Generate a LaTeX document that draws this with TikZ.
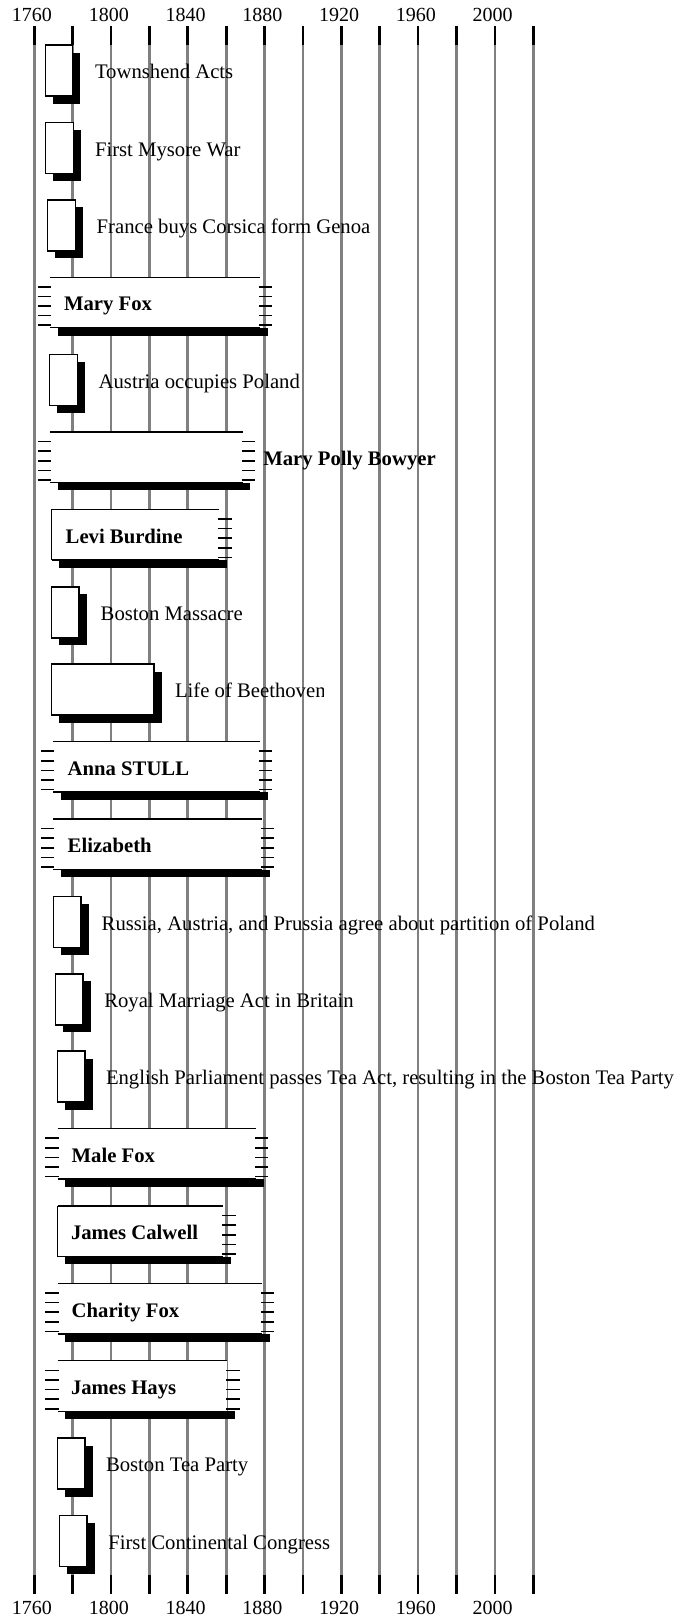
\documentclass[tikz,border=0pt]{standalone}
\usepackage{fontspec}
\setmainfont{Liberation Serif}
\definecolor{gridgray}{HTML}{808080}
\tikzset{
  gridline/.style={draw=gridgray, line width=2.7pt},
  tickline/.style={draw=black, line width=2.7pt},
  boxline/.style={draw=black, line width=1.5pt},
  edgeline/.style={draw=black, line width=1.3pt},
  fuzz/.style={draw=black, line width=1.6pt},
  shadowfill/.style={fill=black},
  evlabel/.style={anchor=base west, inner sep=0pt, outer sep=0pt, font=\fontsize{20.7}{25}\selectfont},
  durlabel/.style={anchor=base west, inner sep=0pt, outer sep=0pt, font=\fontsize{20.7}{25}\selectfont\bfseries},
  yearlabel/.style={anchor=base, inner sep=0pt, outer sep=0pt, font=\fontsize{20}{24}\selectfont},
}
% event: name, row, left, right, label, label x
\newcommand\tlevent[6]{%
  \pgfmathsetmacro\rowT{45+77.4*(#2-1)}%
  \pgfmathsetmacro\rowB{\rowT+51}%
  \fill[shadowfill] (#3+7.5,\rowT+7.5) rectangle (#4+7.5,\rowB+7.5);
  \draw[boxline, fill=white] (#3,\rowT) rectangle (#4,\rowB);
  \node[evlabel] (#1) at (#6,\rowT+33.6) {#5};
}
% duration: name, row, left, right, left solid (1/0), label, label x
\newcommand\tldur[7]{%
  \pgfmathsetmacro\rowT{45+77.4*(#2-1)}%
  \pgfmathsetmacro\rowB{\rowT+50.5}%
  \fill[white] (#3,\rowT) rectangle (#4,\rowB);
  \fill[shadowfill] (#3+7.5,\rowB) rectangle (#4+7.5,\rowB+7.8);
  \draw[edgeline] (#3,\rowT) -- (#4,\rowT);
  \draw[edgeline] (#3,\rowB) -- (#4,\rowB);
  \ifnum#5=1
    \draw[boxline] (#3,\rowT) -- (#3,\rowB);
  \else
    \foreach \k in {1,...,5} {\draw[fuzz] (#3-12.3,\rowT+9.6*\k) -- (#3+1,\rowT+9.6*\k);}
  \fi
  \foreach \k in {1,...,5} {\draw[fuzz] (#4-1,\rowT+9.6*\k) -- (#4+12.3,\rowT+9.6*\k);}
  \node[durlabel] (#1) at (#7,\rowT+33.6) {#6};
}
\begin{document}
\begin{tikzpicture}[x=1pt,y=-1pt]
\useasboundingbox (0,0) rectangle (680,1618);
% grid
\foreach \k in {0,...,13} {
  \pgfmathsetmacro\gx{34.3+38.38*\k}
  \draw[gridline] (\gx,45) -- (\gx,1575);
  \draw[tickline] (\gx,26) -- (\gx,45);
  \draw[tickline] (\gx,1575) -- (\gx,1594.3);
}
\foreach \k/\yr in {0/1760,2/1800,4/1840,6/1880,8/1920,10/1960,12/2000} {
  \pgfmathsetmacro\gx{34.3+38.38*\k-2.3}
  \node[yearlabel] (top\yr) at (\gx,21.5) {\yr};
  \node[yearlabel] (bot\yr) at (\gx,1614) {\yr};
}
% rows
\tlevent{townshend}{1}{45.7}{72.7}{Townshend Acts}{95}
\tlevent{mysore}{2}{45.7}{73.3}{First Mysore War}{95}
\tlevent{corsica}{3}{47.7}{75.3}{France buys Corsica form Genoa}{96.7}
\tldur{maryfox}{4}{50}{260}{0}{Mary Fox}{64}
\tlevent{austria}{5}{49.3}{77.7}{Austria occupies Poland}{98.7}
\tldur{bowyer}{6}{50}{242.7}{0}{Mary Polly Bowyer}{263.3}
\tldur{burdine}{7}{51.7}{219.3}{1}{Levi Burdine}{65.7}
\tlevent{massacre}{8}{51.7}{79}{Boston Massacre}{100.7}
\begin{scope}
  \clip (0,0) rectangle (323.5,1618);
  \tlevent{beethoven}{9}{51.7}{154}{Life of Beethoven}{175}
\end{scope}
\tldur{stull}{10}{53.3}{260}{0}{Anna STULL}{67.7}
\tldur{elizabeth}{11}{53.3}{262}{0}{Elizabeth}{67.7}
\tlevent{partition}{12}{53.3}{81}{Russia, Austria, and Prussia agree about partition of Poland}{101.7}
\tlevent{marriage}{13}{55.3}{83}{Royal Marriage Act in Britain}{104.3}
\tlevent{teaact}{14}{57.3}{85}{English Parliament passes Tea Act, resulting in the Boston Tea Party}{106}
\tldur{malefox}{15}{57.7}{256}{0}{Male Fox}{71.7}
\tldur{calwell}{16}{57.7}{223.3}{1}{James Calwell}{71}
\tldur{charity}{17}{57.7}{262}{0}{Charity Fox}{71.7}
\tldur{hays}{18}{57.7}{227.3}{0}{James Hays}{71}
\tlevent{teaparty}{19}{57.3}{85}{Boston Tea Party}{106}
\tlevent{congress}{20}{59.3}{87}{First Continental Congress}{108.3}
\end{tikzpicture}
\end{document}
